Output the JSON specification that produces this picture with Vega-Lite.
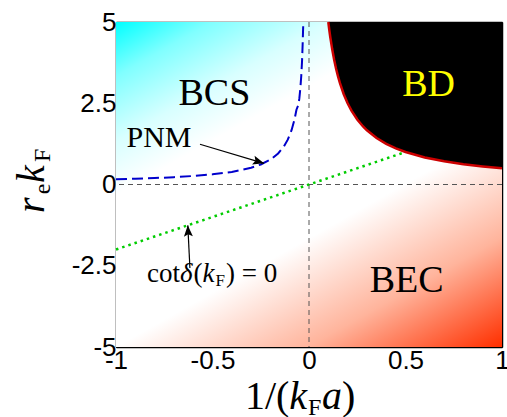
{
  "$schema": "https://vega.github.io/schema/vega-lite/v6.json",
  "width": 386,
  "height": 325,
  "autosize": {"type": "none"},
  "padding": {"left": 116, "top": 22, "right": 5, "bottom": 70},
  "background": "white",
  "view": {"stroke": null},
  "config": {
    "axis": {
      "domainColor": "#000",
      "domainWidth": 1.5,
      "tickColor": "#000",
      "tickWidth": 1,
      "tickSize": -6,
      "grid": false,
      "labelFont": "Liberation Sans",
      "labelFontSize": 26,
      "labelColor": "#000",
      "labelOverlap": false,
      "labelBound": false,
      "labelFlush": false,
      "zindex": 1
    }
  },
  "datasets": {
    "bd": [
      {"x": 0.1, "y": 5.0}, {"x": 0.105, "y": 4.762}, {"x": 0.11, "y": 4.545}, {"x": 0.12, "y": 4.167},
      {"x": 0.13, "y": 3.846}, {"x": 0.14, "y": 3.571}, {"x": 0.15, "y": 3.333}, {"x": 0.16, "y": 3.125},
      {"x": 0.18, "y": 2.778}, {"x": 0.2, "y": 2.5}, {"x": 0.22, "y": 2.273}, {"x": 0.25, "y": 2.0},
      {"x": 0.28, "y": 1.786}, {"x": 0.3, "y": 1.667}, {"x": 0.35, "y": 1.429}, {"x": 0.4, "y": 1.25},
      {"x": 0.45, "y": 1.111}, {"x": 0.5, "y": 1.0}, {"x": 0.6, "y": 0.833}, {"x": 0.7, "y": 0.714},
      {"x": 0.8, "y": 0.625}, {"x": 0.9, "y": 0.556}, {"x": 1.0, "y": 0.5}
    ],
    "pnm": [
      {"x": -1.0, "y": 0.16}, {"x": -0.9, "y": 0.177}, {"x": -0.8, "y": 0.198}, {"x": -0.7, "y": 0.225},
      {"x": -0.6, "y": 0.262}, {"x": -0.5, "y": 0.312}, {"x": -0.4, "y": 0.388}, {"x": -0.3, "y": 0.515},
      {"x": -0.25, "y": 0.615}, {"x": -0.2, "y": 0.765}, {"x": -0.16, "y": 0.955}, {"x": -0.13, "y": 1.17},
      {"x": -0.11, "y": 1.38}, {"x": -0.09, "y": 1.68}, {"x": -0.075, "y": 2.0}, {"x": -0.065, "y": 2.3},
      {"x": -0.055, "y": 2.45}, {"x": -0.05, "y": 2.65}, {"x": -0.045, "y": 2.95}, {"x": -0.04, "y": 3.35},
      {"x": -0.036, "y": 3.8}, {"x": -0.033, "y": 4.3}, {"x": -0.031, "y": 4.7}, {"x": -0.0295, "y": 5.0}
    ],
    "cot": [
      {"x": -1.0, "y": -2.0}, {"x": 0.5, "y": 1.0}
    ],
    "arrows": [
      {"x": -0.565, "y": 1.237, "xe": -0.233, "ye": 0.652},
      {"x": -0.617, "y": -2.57, "xe": -0.628, "ye": -1.257}
    ]
  },
  "layer": [
    {
      "data": {"values": [{}]},
      "mark": {
        "type": "rect",
        "fill": {
          "gradient": "linear",
          "x1": 0, "y1": 0, "x2": 0.77, "y2": 1.15,
          "stops": [
            {"offset": 0, "color": "#00ffff"},
            {"offset": 0.1, "color": "#80ffff"},
            {"offset": 0.22, "color": "#d8ffff"},
            {"offset": 0.32, "color": "#ffffff"},
            {"offset": 0.6, "color": "#ffffff"},
            {"offset": 0.8, "color": "#ffb49c"},
            {"offset": 1, "color": "#ff3000"}
          ]
        }
      },
      "encoding": {
        "x": {"datum": -1, "type": "quantitative", "scale": {"domain": [-1, 1], "nice": false, "zero": false},
              "axis": {"orient": "top", "values": [-1, -0.5, 0, 0.5, 1], "labels": false, "title": null}},
        "x2": {"datum": 1},
        "y": {"datum": -5, "type": "quantitative", "scale": {"domain": [-5, 5], "nice": false, "zero": false},
              "axis": {"orient": "right", "values": [-5, -2.5, 0, 2.5, 5], "labels": false, "title": null}},
        "y2": {"datum": 5}
      }
    },
    {
      "data": {"values": [{}]},
      "mark": {"type": "rule", "color": "#555", "strokeDash": [5, 4], "strokeWidth": 1},
      "encoding": {"x": {"datum": 0, "type": "quantitative", "axis": null}}
    },
    {
      "data": {"values": [{}]},
      "mark": {"type": "rule", "color": "#555", "strokeDash": [5, 4], "strokeWidth": 1},
      "encoding": {"y": {"datum": 0, "type": "quantitative", "axis": null}}
    },
    {
      "data": {"name": "bd"},
      "mark": {"type": "area", "color": "#000", "opacity": 1},
      "encoding": {
        "x": {"field": "x", "type": "quantitative", "axis": null},
        "y": {"field": "y", "type": "quantitative", "axis": null},
        "y2": {"datum": 5}
      }
    },
    {
      "data": {"name": "bd"},
      "mark": {"type": "line", "color": "#cc0000", "strokeWidth": 2.5},
      "encoding": {
        "x": {"field": "x", "type": "quantitative", "axis": null},
        "y": {"field": "y", "type": "quantitative", "axis": null}
      }
    },
    {
      "data": {"name": "pnm"},
      "mark": {"type": "line", "color": "#0000cc", "strokeWidth": 2, "strokeDash": [11, 5]},
      "encoding": {
        "x": {"field": "x", "type": "quantitative", "axis": null},
        "y": {"field": "y", "type": "quantitative", "axis": null}
      }
    },
    {
      "data": {"name": "cot"},
      "mark": {"type": "line", "color": "#00cc00", "strokeWidth": 2.5, "strokeDash": [2.5, 4]},
      "encoding": {
        "x": {"field": "x", "type": "quantitative", "axis": null},
        "y": {"field": "y", "type": "quantitative", "axis": null}
      }
    },
    {
      "data": {"name": "arrows"},
      "mark": {"type": "rule", "color": "#000", "strokeWidth": 1.2},
      "encoding": {
        "x": {"field": "x", "type": "quantitative", "axis": null},
        "y": {"field": "y", "type": "quantitative", "axis": null},
        "x2": {"field": "xe"},
        "y2": {"field": "ye"}
      }
    },
    {
      "data": {"values": [{"x": -0.233, "y": 0.652}]},
      "mark": {"type": "point", "shape": "M0,0L-1,-0.4L-0.8,0L-1,0.4Z", "filled": true, "color": "#000", "opacity": 1, "size": 500, "angle": 16.5},
      "encoding": {
        "x": {"field": "x", "type": "quantitative", "axis": null},
        "y": {"field": "y", "type": "quantitative", "axis": null}
      }
    },
    {
      "data": {"values": [{"x": -0.628, "y": -1.257}]},
      "mark": {"type": "point", "shape": "M0,0L-1,-0.4L-0.8,0L-1,0.4Z", "filled": true, "color": "#000", "opacity": 1, "size": 500, "angle": 267},
      "encoding": {
        "x": {"field": "x", "type": "quantitative", "axis": null},
        "y": {"field": "y", "type": "quantitative", "axis": null}
      }
    },
    {
      "data": {"values": [{"x": -0.49, "y": 2.8, "t": "BCS"}, {"x": 0.506, "y": -2.97, "t": "BEC"}]},
      "mark": {"type": "text", "font": "Liberation Serif", "fontSize": 38, "color": "#000", "align": "center", "baseline": "middle"},
      "encoding": {
        "x": {"field": "x", "type": "quantitative", "axis": null},
        "y": {"field": "y", "type": "quantitative", "axis": null},
        "text": {"field": "t"}
      }
    },
    {
      "data": {"values": [{"x": 0.62, "y": 3.06, "t": "BD"}]},
      "mark": {"type": "text", "font": "Liberation Serif", "fontSize": 38, "color": "#ffff00", "align": "center", "baseline": "middle"},
      "encoding": {
        "x": {"field": "x", "type": "quantitative", "axis": null},
        "y": {"field": "y", "type": "quantitative", "axis": null},
        "text": {"field": "t"}
      }
    },
    {
      "data": {"values": [{"x": -0.777, "y": 1.446, "t": "PNM"}]},
      "mark": {"type": "text", "font": "Liberation Serif", "fontSize": 30, "color": "#000", "align": "center", "baseline": "middle"},
      "encoding": {
        "x": {"field": "x", "type": "quantitative", "axis": null},
        "y": {"field": "y", "type": "quantitative", "axis": null},
        "text": {"field": "t"}
      }
    },
    {
      "data": {"values": [
        {"x": -0.839, "y": -2.99, "t": "cot"},
        {"x": -0.598, "y": -2.99, "t": "("},
        {"x": -0.43, "y": -2.99, "t": ") = 0"}
      ]},
      "mark": {"type": "text", "font": "Liberation Serif", "fontSize": 27, "color": "#000", "align": "left", "baseline": "alphabetic"},
      "encoding": {
        "x": {"field": "x", "type": "quantitative", "axis": null},
        "y": {"field": "y", "type": "quantitative", "axis": null},
        "text": {"field": "t"}
      }
    },
    {
      "data": {"values": [
        {"x": -0.668, "y": -2.99, "t": "δ"},
        {"x": -0.552, "y": -2.99, "t": "k"}
      ]},
      "mark": {"type": "text", "font": "Liberation Serif", "fontStyle": "italic", "fontSize": 27, "color": "#000", "align": "left", "baseline": "alphabetic"},
      "encoding": {
        "x": {"field": "x", "type": "quantitative", "axis": null},
        "y": {"field": "y", "type": "quantitative", "axis": null},
        "text": {"field": "t"}
      }
    },
    {
      "data": {"values": [
        {"x": -0.484, "y": -3.12, "t": "F"}
      ]},
      "mark": {"type": "text", "font": "Liberation Serif", "fontSize": 17, "color": "#000", "align": "left", "baseline": "alphabetic"},
      "encoding": {
        "x": {"field": "x", "type": "quantitative", "axis": null},
        "y": {"field": "y", "type": "quantitative", "axis": null},
        "text": {"field": "t"}
      }
    },
    {
      "data": {"values": [
        {"x": -0.332, "y": -6.908, "t": "1/("},
        {"x": 0.171, "y": -6.908, "t": ")"}
      ]},
      "mark": {"type": "text", "font": "Liberation Serif", "fontSize": 40, "color": "#000", "align": "left", "baseline": "alphabetic"},
      "encoding": {
        "x": {"field": "x", "type": "quantitative", "axis": null},
        "y": {"field": "y", "type": "quantitative", "axis": null},
        "text": {"field": "t"}
      }
    },
    {
      "data": {"values": [
        {"x": -0.102, "y": -6.908, "t": "k"},
        {"x": 0.067, "y": -6.908, "t": "a"}
      ]},
      "mark": {"type": "text", "font": "Liberation Serif", "fontStyle": "italic", "fontSize": 40, "color": "#000", "align": "left", "baseline": "alphabetic"},
      "encoding": {
        "x": {"field": "x", "type": "quantitative", "axis": null},
        "y": {"field": "y", "type": "quantitative", "axis": null},
        "text": {"field": "t"}
      }
    },
    {
      "data": {"values": [
        {"x": -0.005, "y": -7.1, "t": "F"}
      ]},
      "mark": {"type": "text", "font": "Liberation Serif", "fontSize": 24, "color": "#000", "align": "left", "baseline": "alphabetic"},
      "encoding": {
        "x": {"field": "x", "type": "quantitative", "axis": null},
        "y": {"field": "y", "type": "quantitative", "axis": null},
        "text": {"field": "t"}
      }
    },
    {
      "data": {"values": [
        {"x": -1.373, "y": -0.877, "t": "r"},
        {"x": -1.373, "y": 0.046, "t": "k"}
      ]},
      "mark": {"type": "text", "font": "Liberation Serif", "fontStyle": "italic", "fontSize": 40, "color": "#000", "align": "left", "baseline": "alphabetic", "angle": 270},
      "encoding": {
        "x": {"field": "x", "type": "quantitative", "axis": null},
        "y": {"field": "y", "type": "quantitative", "axis": null},
        "text": {"field": "t"}
      }
    },
    {
      "data": {"values": [
        {"x": -1.342, "y": -0.3, "t": "e"},
        {"x": -1.342, "y": 0.69, "t": "F"}
      ]},
      "mark": {"type": "text", "font": "Liberation Serif", "fontSize": 24, "color": "#000", "align": "left", "baseline": "alphabetic", "angle": 270},
      "encoding": {
        "x": {"field": "x", "type": "quantitative", "axis": null},
        "y": {"field": "y", "type": "quantitative", "axis": null},
        "text": {"field": "t"}
      }
    },
    {
      "data": {"values": [{}]},
      "mark": {"type": "rule", "opacity": 0},
      "encoding": {
        "x": {"datum": -1, "type": "quantitative",
              "axis": {"orient": "bottom", "values": [-1, -0.5, 0, 0.5, 1], "title": null, "labelPadding": 6, "labelExpr": "'' + datum.value"}},
        "y": {"datum": -5, "type": "quantitative",
              "axis": {"orient": "left", "values": [-5, -2.5, 0, 2.5, 5], "title": null, "labelPadding": 6, "labelExpr": "'' + datum.value"}}
      }
    }
  ],
  "resolve": {"axis": {"x": "independent", "y": "independent"}}
}
